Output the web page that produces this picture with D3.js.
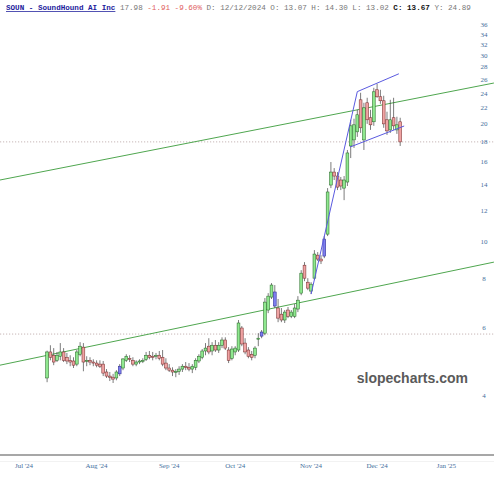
<!DOCTYPE html>
<html><head><meta charset="utf-8">
<script src="https://cdn.jsdelivr.net/npm/d3@7"></script>
<style>body{margin:0;background:#fff} svg{display:block}</style>
</head><body>
<svg id="c" width="494" height="480"></svg>
<script>
// ---- data ----
const startDay = 7; // trading-day index of first candle (Jul 1 2024 = 0)
const opens  = [4.45,5.19,5.09,4.94,5.06,5.19,5.03,4.94,4.92,4.83,5.12,5.34,4.92,4.94,4.89,4.86,
  4.83,4.83,4.61,4.50,4.47,4.45,4.56,4.72,4.94,5.00,4.94,4.83,4.89,4.92,4.97,5.09,5.06,5.06,5.09,5.03,4.86,
  4.72,4.66,4.61,4.63,4.69,4.77,4.74,4.69,4.74,4.92,5.03,5.22,5.37,5.22,5.40,5.25,5.40,5.57,5.25,5.00,5.19,
  5.25,5.98,5.47,5.25,5.12,5.09,5.60,5.70,5.80,6.65,7.18,7.40,6.73,6.49,6.27,6.65,6.41,
  6.41,6.69,7.35,8.67,7.84,7.44,8.03,9.20,8.99,9.15,10.42,13.93,15.04,14.69,14.35,13.68,14.18,17.55,18.19,19.08,
  23.06,18.19,22.66,20.74,20.25,24.47,23.48,22.93,20.49,19.30,20.74,19.30,20.25];
const highs  = [5.23,5.40,5.31,5.19,5.47,5.31,5.16,5.09,5.03,5.25,5.50,5.47,5.06,5.03,4.97,4.94,
  4.94,4.92,4.69,4.61,4.56,4.66,4.83,5.00,5.12,5.09,5.03,4.94,4.97,5.00,5.19,5.22,5.19,5.16,5.22,5.25,5.00,
  4.83,4.74,4.69,4.77,4.83,4.89,4.86,4.83,5.00,5.12,5.28,5.47,5.63,5.50,5.57,5.50,5.66,5.66,5.34,5.37,5.37,
  6.27,6.05,5.63,5.34,5.22,5.37,5.80,5.91,7.14,7.35,7.80,7.71,7.10,6.73,6.65,6.77,6.65,
  6.89,7.22,8.42,8.83,8.03,7.84,9.48,9.37,9.20,10.30,13.68,15.96,15.40,15.04,14.61,14.69,17.14,20.49,20.62,21.74,
  24.04,22.66,23.34,21.74,24.76,25.35,24.47,23.62,21.49,23.06,23.34,20.86,20.74];
const lows   = [4.34,4.94,4.80,4.89,4.94,4.89,4.83,4.77,4.72,4.77,5.06,4.63,4.77,4.80,4.77,4.74,
  4.72,4.50,4.45,4.37,4.32,4.39,4.50,4.66,4.89,4.89,4.77,4.77,4.83,4.86,4.92,4.97,4.94,4.97,4.94,4.77,4.66,
  4.61,4.50,4.47,4.53,4.61,4.66,4.63,4.58,4.66,4.86,4.97,5.09,5.12,5.09,5.19,5.16,5.31,5.25,4.86,4.94,5.09,
  5.19,5.37,5.12,5.00,4.94,5.00,5.37,5.63,5.73,6.53,7.10,6.73,6.19,6.19,6.16,6.34,6.34,
  6.34,6.57,7.26,7.89,7.48,7.31,7.94,8.89,8.73,9.04,10.30,13.68,14.35,13.52,13.52,12.74,13.85,16.34,17.35,18.52,
  18.96,17.14,20.00,19.30,19.77,23.34,22.52,19.54,18.74,18.96,19.30,18.85,17.55];
const closes = [5.19,5.03,4.89,5.09,5.19,4.94,4.92,4.89,4.80,5.19,5.37,4.89,4.94,4.89,4.86,4.80,
  4.77,4.58,4.50,4.47,4.42,4.61,4.77,4.98,5.06,4.97,4.83,4.89,4.92,4.94,5.09,5.03,5.03,5.09,5.00,4.83,4.72,
  4.66,4.61,4.63,4.69,4.77,4.74,4.69,4.77,4.94,5.06,5.22,5.31,5.19,5.40,5.25,5.40,5.57,5.31,4.94,5.28,5.31,
  6.16,5.44,5.19,5.06,5.03,5.31,5.63,5.84,6.97,7.22,7.71,6.81,6.34,6.27,6.57,6.41,6.57,
  6.73,7.05,8.27,8.03,7.57,7.75,9.26,8.99,8.89,10.12,13.37,15.04,14.69,13.76,13.85,14.35,16.84,19.77,19.89,21.11,
  19.54,22.00,20.49,19.89,24.18,23.48,22.93,20.00,19.19,20.49,19.77,19.89,17.98];
const markedBars = [22, 65, 69, 84];
const tickDays   = [0, 22, 44, 64, 87, 107, 128];
const tickLabels = ["Jul '24","Aug '24","Sep '24","Oct '24","Nov '24","Dec '24","Jan '25"];
const priceTicks = [4,6,8,10,12,14,16,18,20,22,24,26,28,30,32,34,36];
const greenLines = [[[-7.27,14.35],[142.4,25.47]], [[-7.27,4.80],[142.4,8.83]]];
const blueLines  = [[[87,7.31],[101,24.2]], [[101,24.2],[113.6,26.9]], [[98.8,17.44],[115.2,19.75]]];
const refLevels  = [17.98, 5.77];
const titleParts = [
  {t:"SOUN - SoundHound AI Inc", c:"#1c1c9c", b:true, u:true},
  {t:" 17.98", c:"#777"},
  {t:" -1.91 -9.60%", c:"#e06060"},
  {t:" D: 12/12/2024 O: 13.07 H: 14.30 L: 13.02", c:"#777"},
  {t:" C: 13.67", c:"#111", b:true},
  {t:" Y: 24.89", c:"#777"}
];

// ---- chart ----
const svg = d3.select("#c");
const W = 494, H = 480;
const x = d3.scaleLinear().domain([0, 128]).range([24, 24 + 128 * 3.3]);
const y = d3.scaleLog().domain([4, 36]).range([396, 24.5]);

svg.append("rect").attr("width", W).attr("height", H).attr("fill", "#fff");

// reference dotted lines
svg.selectAll("line.ref").data(refLevels).join("line")
  .attr("x1", 0).attr("x2", W)
  .attr("y1", d => y(d)).attr("y2", d => y(d))
  .attr("stroke", "#b9a3a3").attr("stroke-width", 0.8).attr("stroke-dasharray", "1.2,1.8");

// bottom axis line
svg.append("line").attr("x1", 0).attr("x2", W).attr("y1", 455).attr("y2", 455)
  .attr("stroke", "#8a8a8a").attr("stroke-width", 1.5);
svg.append("line").attr("x1", 0).attr("x2", W).attr("y1", 461.5).attr("y2", 461.5)
  .attr("stroke", "#f2f2f2").attr("stroke-width", 1);

// y labels
svg.append("g").selectAll("text").data(priceTicks).join("text")
  .attr("x", 484).attr("y", d => y(d)).attr("dy", "0.35em")
  .attr("text-anchor", "middle")
  .attr("font-family", "Liberation Serif, serif").attr("font-size", 7)
  .attr("fill", "#3f6e9c").text(d => d);

// x labels
svg.append("g").selectAll("text").data(tickDays).join("text")
  .attr("x", d => x(d)).attr("y", 468)
  .attr("text-anchor", "middle")
  .attr("font-family", "Liberation Serif, serif").attr("font-size", 7)
  .attr("fill", "#3f6e9c").text((d, i) => tickLabels[i]);

// watermark
svg.append("text").attr("x", 468).attr("y", 383).attr("text-anchor", "end")
  .attr("font-family", "Liberation Sans, Arial, sans-serif").attr("font-weight", "bold")
  .attr("font-size", 14).attr("fill", "#5a5a5a").text("slopecharts.com");

// trend lines
svg.selectAll("line.g").data(greenLines).join("line")
  .attr("x1", d => x(d[0][0])).attr("y1", d => y(d[0][1]))
  .attr("x2", d => x(d[1][0])).attr("y2", d => y(d[1][1]))
  .attr("stroke", "#4fa64f").attr("stroke-width", 1);

// candles
const bars = opens.map((o, i) => ({i, o, h: highs[i], l: lows[i], c: closes[i], m: markedBars.includes(i)}));
const bw = 2.8;
const g = svg.append("g");
g.selectAll("line").data(bars).join("line")
  .attr("x1", d => x(startDay + d.i)).attr("x2", d => x(startDay + d.i))
  .attr("y1", d => y(d.h)).attr("y2", d => y(d.l))
  .attr("stroke", "#444").attr("stroke-width", 0.7);
g.selectAll("rect").data(bars).join("rect")
  .attr("x", d => x(startDay + d.i) - bw / 2)
  .attr("y", d => y(Math.max(d.o, d.c)))
  .attr("width", bw)
  .attr("height", d => Math.max(1, Math.abs(y(d.o) - y(d.c))))
  .attr("fill", d => d.m ? "#7f7ff0" : (d.c >= d.o ? "#8fe88f" : "#f0a3a3"))
  .attr("stroke", d => d.m ? "#2a2a90" : (d.c >= d.o ? "#2b6b2b" : "#7a3030"))
  .attr("stroke-width", 0.55);

svg.selectAll("line.b").data(blueLines).join("line")
  .attr("x1", d => x(d[0][0])).attr("y1", d => y(d[0][1]))
  .attr("x2", d => x(d[1][0])).attr("y2", d => y(d[1][1]))
  .attr("stroke", "#5a5ae0").attr("stroke-width", 1);

// title
const title = svg.append("text").attr("x", 6).attr("y", 10)
  .attr("font-family", "Liberation Mono, Courier New, monospace").attr("font-size", 7.6)
  .style("white-space", "pre");
titleParts.forEach(p => {
  title.append("tspan").text(p.t).attr("fill", p.c)
    .attr("font-weight", p.b ? "bold" : "normal")
    .style("text-decoration", p.u ? "underline" : "none");
});
</script>
</body></html>
